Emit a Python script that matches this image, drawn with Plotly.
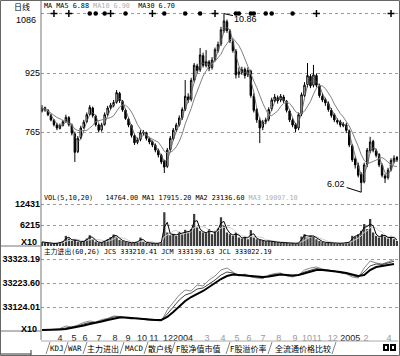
import plotly.graph_objects as go
import pandas as pd

# ---------------- data ----------------
bar_index = list(range(120))

opens = [8.22, 8.31, 8.24, 8.10, 7.97, 7.84, 7.75, 7.83, 7.94, 8.04,
         7.84, 7.60, 7.12, 7.50, 7.77, 7.93, 8.13, 8.30, 8.08, 7.84,
         7.71, 7.86, 8.13, 8.31, 8.37, 8.46, 8.70, 8.48, 8.24, 8.00,
         7.83, 7.55, 7.37, 7.45, 7.62, 7.63, 7.47, 7.39, 7.29, 7.15,
         7.02, 6.86, 6.72, 7.18, 7.47, 7.71, 7.85, 8.04, 8.27, 8.60,
         8.54, 9.06, 9.44, 9.34, 9.72, 9.45, 9.55, 9.40, 9.62, 9.86,
         10.04, 10.40, 10.64, 10.38, 10.10, 9.84, 9.22, 9.27, 9.35, 9.20,
         9.30, 8.62, 8.26, 7.97, 7.78, 7.93, 8.00, 8.28, 8.50, 8.58,
         8.52, 8.60, 8.48, 8.22, 7.97, 7.85, 7.76, 8.14, 8.64, 8.94,
         9.16, 8.92, 9.18, 8.90, 8.62, 8.53, 8.42, 8.24, 8.12, 7.96,
         7.93, 7.82, 7.84, 7.68, 7.28, 6.92, 6.74, 6.50, 6.30, 6.78,
         7.14, 7.40, 7.14, 7.04, 6.74, 6.46, 6.42, 6.64, 6.86, 6.96]

highs = [8.38, 8.34, 8.27, 8.14, 8.00, 7.90, 7.88, 7.98, 8.12, 8.08,
         7.88, 7.66, 7.54, 7.82, 7.98, 8.18, 8.38, 8.34, 8.12, 7.88,
         7.90, 8.18, 8.36, 8.44, 8.52, 8.79, 8.74, 8.52, 8.28, 8.04,
         7.86, 7.60, 7.50, 7.70, 7.70, 7.66, 7.52, 7.42, 7.34, 7.20,
         7.06, 6.90, 7.22, 7.54, 7.76, 7.90, 8.10, 8.32, 9.06, 8.70,
         9.12, 9.52, 9.50, 9.93, 9.80, 9.87, 9.60, 9.68, 9.94, 10.10,
         10.50, 10.86, 10.70, 10.44, 10.16, 9.90, 9.40, 9.42, 9.40, 9.40,
         9.34, 8.70, 8.30, 8.04, 7.98, 8.04, 8.32, 8.58, 8.68, 8.64,
         8.68, 8.66, 8.52, 8.26, 8.02, 7.90, 8.18, 8.72, 9.00, 9.52,
         9.22, 9.47, 9.24, 8.96, 8.70, 8.58, 8.48, 8.30, 8.16, 8.02,
         7.98, 7.92, 7.90, 7.72, 7.32, 6.98, 6.82, 6.56, 6.82, 7.22,
         7.52, 7.44, 7.20, 7.08, 6.80, 6.52, 6.68, 6.94, 7.02, 7.00]

lows = [8.18, 8.20, 8.08, 7.94, 7.80, 7.70, 7.72, 7.80, 7.90, 7.80,
        7.56, 6.84, 7.08, 7.46, 7.74, 7.90, 8.10, 8.04, 7.80, 7.64,
        7.66, 7.82, 8.08, 8.26, 8.32, 8.42, 8.44, 8.20, 7.98, 7.78,
        7.50, 7.30, 7.32, 7.40, 7.56, 7.42, 7.32, 7.24, 7.10, 6.96,
        6.78, 6.54, 6.68, 7.12, 7.42, 7.66, 7.80, 7.98, 8.22, 8.44,
        8.48, 9.00, 9.24, 9.28, 9.40, 9.40, 9.30, 9.34, 9.56, 9.80,
        9.98, 10.34, 10.34, 10.06, 9.80, 9.10, 9.12, 9.20, 9.10, 9.14,
        8.58, 8.18, 7.90, 7.35, 7.70, 7.86, 7.94, 8.22, 8.46, 8.42,
        8.46, 8.44, 8.18, 7.92, 7.78, 7.65, 7.70, 8.08, 8.60, 8.86,
        8.84, 8.86, 8.86, 8.58, 8.46, 8.36, 8.20, 8.04, 7.92, 7.86,
        7.78, 7.78, 7.62, 7.24, 6.84, 6.66, 6.42, 6.02, 6.26, 6.70,
        7.08, 7.10, 6.96, 6.70, 6.42, 6.27, 6.36, 6.58, 6.80, 6.84]

closes = [8.30, 8.25, 8.12, 7.98, 7.85, 7.76, 7.82, 7.93, 8.05, 7.85,
          7.62, 7.10, 7.48, 7.76, 7.92, 8.12, 8.32, 8.10, 7.85, 7.70,
          7.84, 8.12, 8.30, 8.38, 8.45, 8.72, 8.50, 8.25, 8.02, 7.84,
          7.56, 7.36, 7.44, 7.63, 7.64, 7.48, 7.38, 7.30, 7.16, 7.03,
          6.84, 6.70, 7.16, 7.48, 7.70, 7.84, 8.03, 8.26, 8.62, 8.52,
          9.05, 9.46, 9.32, 9.74, 9.46, 9.56, 9.38, 9.60, 9.88, 10.02,
          10.42, 10.66, 10.40, 10.12, 9.86, 9.20, 9.28, 9.34, 9.18, 9.32,
          8.64, 8.24, 7.98, 7.76, 7.92, 7.98, 8.26, 8.52, 8.60, 8.50,
          8.62, 8.50, 8.24, 7.98, 7.84, 7.74, 8.12, 8.66, 8.92, 9.18,
          8.90, 9.20, 8.92, 8.64, 8.52, 8.44, 8.26, 8.10, 7.98, 7.92,
          7.84, 7.86, 7.70, 7.30, 6.90, 6.76, 6.48, 6.28, 6.76, 7.16,
          7.38, 7.16, 7.02, 6.76, 6.48, 6.40, 6.62, 6.88, 6.94, 6.90]

# volume, in axis units (X10)
volumes = [1200, 900, 1000, 800, 700, 900, 1000, 1400, 3000, 2200,
           1500, 2000, 1300, 1200, 1500, 2200, 3200, 2000, 1300, 1000,
           1100, 1600, 2000, 2600, 3400, 2800, 1800, 1500, 1200, 1000,
           900, 1100, 1300, 2500, 1200, 900, 800, 900, 700, 900,
           1200, 10000, 4000, 3200, 3600, 3000, 4200, 3500, 4800, 4000,
           5000, 9500, 5500, 4500, 4000, 3800, 5000, 3500, 4500, 5200,
           8500, 6000, 4000, 3500, 3000, 4000, 2500, 2200, 2800, 2000,
           4700, 2500, 2000, 1800, 1500, 1400, 1600, 1300, 1200, 1100,
           1000, 900, 1100, 800, 900, 700, 1000, 2800, 3500, 2500,
           3200, 2800, 2000, 1500, 1200, 1000, 900, 1000, 800, 700,
           900, 800, 1000, 1200, 3000, 2800, 3500, 4500, 6500, 5000,
           8000, 4000, 3000, 2500, 3500, 2800, 2200, 3000, 2000, 1500]

# 主力进出 indicator (X10), sampled every second bar
ind_index = list(range(0, 120, 2))
jcs = [33030.6, 33028.6, 33032.7, 33034.8, 33045.2, 33041.0, 33049.3, 33059.7, 33065.9, 33061.8,
       33072.1, 33076.3, 33086.7, 33084.6, 33078.4, 33074.2, 33078.4, 33074.2, 33068.0, 33068.0,
       33065.9, 33111.6, 33144.8, 33173.8, 33194.6, 33190.4, 33215.3, 33211.2, 33236.1, 33252.7,
       33277.6, 33285.9, 33269.3, 33252.7, 33261.0, 33248.5, 33244.4, 33242.3, 33256.8, 33263.0,
       33265.1, 33252.7, 33248.5, 33256.8, 33277.6, 33285.9, 33290.0, 33281.7, 33277.6, 33273.4,
       33265.1, 33261.0, 33248.5, 33244.4, 33285.9, 33314.9, 33306.6, 33302.5, 33310.8, 33321.0]
jcm = [33028.6, 33028.6, 33030.6, 33032.7, 33036.9, 33038.9, 33045.2, 33053.5, 33059.7, 33059.7,
       33068.0, 33074.2, 33082.5, 33084.6, 33080.4, 33076.3, 33076.3, 33074.2, 33070.0, 33068.0,
       33068.0, 33095.0, 33124.0, 33153.1, 33173.8, 33182.1, 33198.7, 33202.9, 33219.5, 33236.1,
       33256.8, 33269.3, 33265.1, 33256.8, 33256.8, 33252.7, 33248.5, 33244.4, 33252.7, 33258.9,
       33261.0, 33254.7, 33252.7, 33256.8, 33269.3, 33277.6, 33283.8, 33279.6, 33277.6, 33273.4,
       33267.2, 33263.0, 33254.7, 33248.5, 33269.3, 33294.2, 33302.5, 33300.4, 33306.6, 33314.0]
jcl = [33028.5, 33028.5, 33028.5, 33030.6, 33032.7, 33036.9, 33041.0, 33047.2, 33053.4, 33057.6,
       33063.8, 33070.0, 33076.3, 33080.4, 33080.4, 33078.4, 33076.3, 33072.1, 33070.0, 33070.0,
       33070.0, 33082.5, 33103.2, 33128.2, 33148.9, 33165.5, 33177.9, 33190.4, 33207.0, 33223.6,
       33240.2, 33252.7, 33258.9, 33256.8, 33254.7, 33252.7, 33250.6, 33248.5, 33250.6, 33254.7,
       33258.9, 33256.8, 33254.7, 33256.8, 33263.0, 33271.3, 33277.6, 33277.6, 33275.5, 33273.4,
       33269.3, 33265.1, 33258.9, 33252.7, 33256.8, 33277.6, 33290.0, 33294.2, 33298.3, 33302.2]

# month starts (bar index) and labels
month_pos = [6.0, 10.7, 14.4, 19.1, 24.5, 28.8, 33.5, 37.5, 42.2, 47.3,
             55.3, 60.7, 65.4, 69.4, 74.1, 79.4, 84.8, 88.8, 92.2, 97.5,
             103.3, 108.6, 116.3]
month_labels = ['4', '5', '6', '7', '8', '9', '10', '11', '12', '2004',
                '3', '4', '5', '6', '7', '8', '9', '10', '11', '12',
                '2005', '2', '4']

price_ticks = [10.86, 9.25, 7.65]
price_tick_labels = ['1086', '925', '765']
vol_ticks = [12431, 6215]
vol_tick_labels = ['12431', '6215']
ind_ticks = [33323.19, 33223.60, 33124.01]
ind_tick_labels = ['33323.19', '33223.60', '33124.01']

signal_plus = [4, 9, 23, 37, 58, 92, 117]
signal_dot = [16, 18, 21, 28, 41, 48, 53, 65, 66, 70, 71, 75, 77, 84]

peak_bar, peak_label = 61, '10.86'
trough_bar, trough_label = 107, '6.02'

ma_legend = 'MA MA5 6.88 <span style="color:#b0b0b0">MA10 6.90</span>  MA30 6.70'
vol_legend = 'VOL(5,10,20)   14764.00 MA1 17915.20 MA2 23136.60 <span style="color:#b0b0b0">MA3 19097.10</span>'
ind_legend = '主力进出(60,26) JCS 333210.41 JCM 333139.63 JCL 333022.19'
tab_labels = ['KDJ', 'WAR', '主力进出', 'MACD', '散户线', 'F股净值市值', 'F股溢价率', '全流通价格比较']

# ---------------- layout helpers ----------------
W, H, ML, MR = 400, 356, 41, 2
PW = W - ML - MR


def pxx(px):
    return (px - ML) / PW


def pxy(py):
    return 1 - py / H


MONO = 'DejaVu Sans Mono, Noto Sans CJK SC'
CJK = 'Noto Sans CJK SC'
SANS = 'Liberation Sans'

ma_short = pd.Series(closes).rolling(3, min_periods=1).mean()
ma_long = pd.Series(closes).rolling(7, min_periods=1).mean()
vma_a = pd.Series(volumes).rolling(2, min_periods=1).mean()
vma_b = pd.Series(volumes).rolling(5, min_periods=1).mean()

fig = go.Figure()

fig.add_trace(go.Candlestick(
    x=bar_index, open=opens, high=highs, low=lows, close=closes,
    increasing=dict(line=dict(color='black', width=1), fillcolor='white'),
    decreasing=dict(line=dict(color='black', width=1), fillcolor='black'),
    whiskerwidth=0, xaxis='x', yaxis='y', hoverinfo='skip', showlegend=False))
fig.add_trace(go.Scatter(x=bar_index, y=ma_short, mode='lines', yaxis='y',
                         line=dict(color='#555555', width=0.8), hoverinfo='skip'))
fig.add_trace(go.Scatter(x=bar_index, y=ma_long, mode='lines', yaxis='y',
                         line=dict(color='#808080', width=1), hoverinfo='skip'))

level = price_ticks[0]
fig.add_trace(go.Scatter(x=signal_plus, y=[level] * len(signal_plus), mode='markers', yaxis='y',
                         marker=dict(symbol='cross-thin', size=5, line=dict(color='black', width=1.5)),
                         hoverinfo='skip', cliponaxis=False))
fig.add_trace(go.Scatter(x=signal_dot, y=[level] * len(signal_dot), mode='markers', yaxis='y',
                         marker=dict(symbol='circle', size=4.5, color='black'),
                         hoverinfo='skip', cliponaxis=False))

fig.add_trace(go.Bar(x=bar_index, y=volumes, yaxis='y2', width=0.75,
                     marker=dict(color='#3c3c3c', line=dict(width=0)), hoverinfo='skip'))
fig.add_trace(go.Scatter(x=bar_index, y=vma_b, mode='lines', yaxis='y2',
                         line=dict(color='#d0d0d0', width=1), hoverinfo='skip'))
fig.add_trace(go.Scatter(x=bar_index, y=vma_a, mode='lines', yaxis='y2',
                         line=dict(color='black', width=1), hoverinfo='skip'))

fig.add_trace(go.Scatter(x=ind_index, y=jcs, mode='lines', yaxis='y3',
                         line=dict(color='#8a8a8a', width=1), hoverinfo='skip'))
fig.add_trace(go.Scatter(x=ind_index, y=jcm, mode='lines', yaxis='y3',
                         line=dict(color='#444444', width=1), hoverinfo='skip'))
fig.add_trace(go.Scatter(x=ind_index, y=jcl, mode='lines', yaxis='y3',
                         line=dict(color='black', width=2), hoverinfo='skip'))

first_year = month_labels.index('2004')
xt_text = []
for i, lbl in enumerate(month_labels):
    dark = i <= first_year or len(lbl) == 4
    xt_text.append(lbl if dark else '<span style="color:#9a9a9a">%s</span>' % lbl)

grid = dict(showgrid=True, gridcolor='#9a9a9a', griddash='dot', gridwidth=1,
            zeroline=False, showline=False, ticks='', automargin=False)

# the top price label sits a little below its gridline (drawn as annotation)
price_text = [''] + price_tick_labels[1:]

fig.update_layout(
    width=W, height=H, margin=dict(l=ML, r=MR, t=0, b=0), autosize=False,
    paper_bgcolor='white', plot_bgcolor='white', showlegend=False,
    bargap=0.2,
    xaxis=dict(domain=[0, 1], range=[-0.34, 119.34], anchor='y3',
               tickvals=month_pos, ticktext=xt_text, tickangle=0,
               showgrid=False, zeroline=False, showline=False, ticks='',
               tickfont=dict(family=SANS, size=9, color='#222'),
               rangeslider=dict(visible=False), automargin=False),
    yaxis=dict(domain=[pxy(194), pxy(2)], range=[5.971, 11.174],
               tickvals=price_ticks, ticktext=price_text,
               tickfont=dict(family=SANS, size=9, color='black'), **grid),
    yaxis2=dict(domain=[pxy(246), pxy(200)], range=[0, 13616],
                tickvals=vol_ticks, ticktext=['<b>%s</b>' % t for t in vol_tick_labels],
                tickfont=dict(family=SANS, size=9, color='black'), **grid),
    yaxis3=dict(domain=[pxy(331), pxy(255)], range=[33024.4, 33339.8],
                tickvals=ind_ticks, ticktext=['<b>%s</b>' % t for t in ind_tick_labels],
                tickfont=dict(family=SANS, size=9, color='black'), **grid),
)

ann = []
ann.append(dict(x=peak_bar, y=highs[peak_bar], xref='x', yref='y', text=peak_label,
                showarrow=True, arrowhead=0, arrowwidth=1, arrowcolor='black', ax=22, ay=5,
                font=dict(family=SANS, size=9, color='black')))
ann.append(dict(x=trough_bar, y=lows[trough_bar], xref='x', yref='y', text=trough_label,
                showarrow=True, arrowhead=0, arrowwidth=1, arrowcolor='black', ax=-25, ay=-8,
                font=dict(family=SANS, size=9, color='black')))
ann.append(dict(x=0, y=price_ticks[0], xref='paper', yref='y', text=price_tick_labels[0],
                showarrow=False, xanchor='right', yanchor='middle', xshift=-3, yshift=-6,
                font=dict(family=SANS, size=9, color='black')))


def txt(px, py, text, size=7, family=MONO, color='black', xanchor='left'):
    ann.append(dict(x=pxx(px), y=pxy(py), xref='paper', yref='paper', text=text,
                    showarrow=False, xanchor=xanchor, yanchor='middle',
                    font=dict(family=family, size=size, color=color)))


txt(12, 6, '日线', size=8, family=CJK)
txt(42, 6, ma_legend, size=6.8)
txt(42, 198, vol_legend, size=6.8)
txt(42, 252, ind_legend, size=6.8)
txt(39, 242, '<b>X10</b>', size=9, family=SANS, xanchor='right')
txt(39, 329, '<b>X10</b>', size=9, family=SANS, xanchor='right')

tab_x_px = [57, 75, 103, 134, 160, 198, 248, 303]
for lbl, cx in zip(tab_labels, tab_x_px):
    fam = MONO if lbl.isascii() else CJK
    txt(cx, 348, lbl, size=7.5 if lbl.isascii() else 8, family=fam, xanchor='center')

fig.update_layout(annotations=ann)

shapes = []


def seg(x0, y0, x1, y1, color='#333', width=1):
    shapes.append(dict(type='line', xref='paper', yref='paper',
                       x0=pxx(x0), y0=pxy(y0), x1=pxx(x1), y1=pxy(y1),
                       line=dict(color=color, width=width)))


seg(41, 0, 41, 340, color='#777')
seg(0, 246, 41, 246, color='#777')
seg(0, 331, 41, 331, color='#777')
seg(41, 341, 398, 341, color='#aaa')
for sx in [48, 66, 85, 122, 146, 173, 228, 270, 334]:
    seg(sx - 2, 354, sx + 2, 342, color='#888')
seg(0, 354, 31, 354, color='#333')
seg(31, 350, 31, 356, color='#333')
# outer frame
shapes.append(dict(type='rect', xref='paper', yref='paper', x0=pxx(0.5), y0=pxy(355.5),
                   x1=pxx(399.5), y1=pxy(0.5), line=dict(color='#666', width=1)))
# bottom-right icon
for bx in [383, 390]:
    shapes.append(dict(type='rect', xref='paper', yref='paper', x0=pxx(bx), y0=pxy(351),
                       x1=pxx(bx + 6), y1=pxy(344), fillcolor='black', line=dict(width=0)))
    shapes.append(dict(type='rect', xref='paper', yref='paper', x0=pxx(bx + 2), y0=pxy(349),
                       x1=pxx(bx + 4), y1=pxy(346), fillcolor='white', line=dict(width=0)))
fig.update_layout(shapes=shapes)

fig.write_html('out.html')
